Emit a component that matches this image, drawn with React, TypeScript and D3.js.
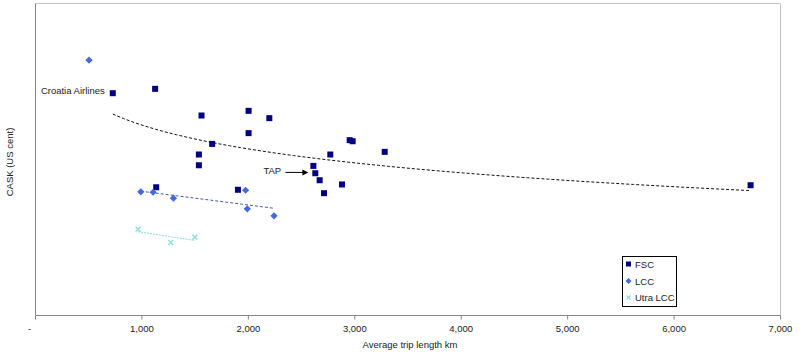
import React from "react";
import * as d3 from "d3";

// Average trip length (km) and CASK (US cent, estimated scale)
const fscX = [726, 1124, 1560, 2002, 2197, 2002, 1660, 2952, 2980, 2770, 3281, 1535, 1535, 2611, 2629, 2670, 2880, 2711, 1134, 1902, 6719];
const fscY = [14.25, 14.53, 12.82, 13.12, 12.65, 11.69, 11.0, 11.24, 11.17, 10.32, 10.49, 10.32, 9.63, 9.59, 9.12, 8.67, 8.4, 7.84, 8.22, 8.06, 8.35];
const lccX = [503, 990, 1105, 1296, 1974, 1990, 2241];
const lccY = [16.37, 7.93, 7.9, 7.52, 8.03, 6.84, 6.39];
const ulccX = [964, 1271, 1497];
const ulccY = [5.53, 4.68, 5.02];
const xTicks = [0, 1000, 2000, 3000, 4000, 5000, 6000, 7000];
const seriesNames = ["FSC", "LCC", "Utra LCC"];

const W = 800, H = 356;
const left = 35.5, right = 780.5, top = 3.5, bottom = 315.5;
const FONT = "'Liberation Sans', Arial, sans-serif";

function linFit(xs: number[], ys: number[], tf: (v: number) => number) {
  const tx = xs.map(tf);
  const mx = d3.mean(tx)!, my = d3.mean(ys)!;
  let sxy = 0, sxx = 0;
  tx.forEach((v, i) => { sxy += (v - mx) * (ys[i] - my); sxx += (v - mx) ** 2; });
  const b = sxy / sxx;
  return (x: number) => my + b * (tf(x) - mx);
}

export default function App() {
  const x = d3.scaleLinear().domain([0, 7000]).range([left, right]);
  const y = d3.scaleLinear().domain([0, 20]).range([bottom, top]);

  const fscFit = linFit(fscX, fscY, Math.log);
  const fscExt = d3.extent(fscX) as [number, number];
  const fscTrend = d3.range(0, 61).map(i => fscExt[0] + (fscExt[1] - fscExt[0]) * i / 60);
  const line = d3.line<[number, number]>().x(d => x(d[0])).y(d => y(d[1]));

  // LCC trend computed on the cluster (excluding the short-haul outlier)
  const lccTX = lccX.slice(1), lccTY = lccY.slice(1);
  const lccFit = linFit(lccTX, lccTY, v => v);
  const lccExt = d3.extent(lccTX) as [number, number];
  const ulccFit = linFit(ulccX, ulccY, v => v);
  const ulccExt = d3.extent(ulccX) as [number, number];

  const navy = "#000080", blue = "#4169e1", cyan = "#8adede";
  const diamond = "M0,-3.6L3.6,0L0,3.6L-3.6,0Z";
  const cross = "M-2.5,-2.5L2.5,2.5M-2.5,2.5L2.5,-2.5";

  const tap = fscX.findIndex((v, i) => v === 2611 && fscY[i] === 9.59);
  const cro = 0;

  return (
    <svg width={W} height={H} style={{ position: "absolute", left: 0, top: 0, background: "#fff" }} fontFamily={FONT}>
      <rect x={0} y={0} width={W} height={H} fill="#fff" />
      {/* plot frame */}
      <line x1={left} y1={top} x2={right} y2={top} stroke="#c4c4c4" />
      <line x1={right} y1={top} x2={right} y2={bottom} stroke="#c4c4c4" />
      <line x1={left} y1={top} x2={left} y2={bottom} stroke="#868686" />
      <line x1={left} y1={bottom} x2={right} y2={bottom} stroke="#868686" />
      {xTicks.map(t => (
        <g key={t}>
          <line x1={x(t)} x2={x(t)} y1={bottom} y2={bottom + 4} stroke="#868686" />
          <text x={t === 0 ? x(t) - 6 : x(t)} y={332} fontSize={9.5} textAnchor="middle" fill="#222">
            {t === 0 ? "-" : d3.format(",")(t)}
          </text>
        </g>
      ))}
      <text x={(left + right) / 2 + 2} y={347.5} fontSize={9.5} textAnchor="middle" fill="#222">Average trip length km</text>
      <text transform={`translate(12.5,162) rotate(-90)`} fontSize={9.5} textAnchor="middle" fill="#222">CASK (US cent)</text>

      {/* trend lines */}
      <path d={line(fscTrend.map(v => [v, fscFit(v)]))!} fill="none" stroke="#111" strokeWidth={1} strokeDasharray="3,2" />
      <path d={line(lccExt.map(v => [v, lccFit(v)]))!} fill="none" stroke="#4a5f96" strokeWidth={1} strokeDasharray="3,2" />
      <path d={line(ulccExt.map(v => [v, ulccFit(v)]))!} fill="none" stroke={cyan} strokeWidth={1} strokeDasharray="2,1" />

      {/* points */}
      {fscX.map((v, i) => (
        <rect key={"f" + i} x={x(v) - 3} y={y(fscY[i]) - 3} width={6} height={6} fill={navy} />
      ))}
      {lccX.map((v, i) => (
        <path key={"l" + i} d={diamond} transform={`translate(${x(v)},${y(lccY[i])})`} fill={blue} />
      ))}
      {ulccX.map((v, i) => (
        <path key={"u" + i} d={cross} transform={`translate(${x(ulccX[i])},${y(ulccY[i])})`} stroke={cyan} strokeWidth={1.3} fill="none" />
      ))}

      {/* annotations */}
      <text x={x(fscX[cro]) - 8} y={y(fscY[cro]) + 1} fontSize={9.5} textAnchor="end" fill="#222">Croatia Airlines</text>
      <text x={x(fscX[tap]) - 50} y={y(fscY[tap]) + 8} fontSize={9.5} fill="#222">TAP</text>
      <line x1={x(fscX[tap]) - 28} x2={x(fscX[tap]) - 10} y1={y(fscY[tap]) + 6.5} y2={y(fscY[tap]) + 6.5} stroke="#000" strokeWidth={1} />
      <path d={`M${x(fscX[tap]) - 5},${y(fscY[tap]) + 6.5}l-6,-3l0,6z`} fill="#000" />

      {/* legend */}
      <rect x={622.5} y={256.5} width={54} height={50} fill="#fff" stroke="#000" strokeWidth={1} />
      {seriesNames.map((n, i) => {
        const cy = 264.5 + i * 16.5;
        return (
          <g key={n}>
            {i === 0 && <rect x={626} y={cy - 3} width={5} height={5} fill={navy} />}
            {i === 1 && <path d="M0,-3L3,0L0,3L-3,0Z" transform={`translate(628.5,${cy})`} fill={blue} />}
            {i === 2 && <path d="M-2,-2L2,2M-2,2L2,-2" transform={`translate(628.5,${cy})`} stroke={cyan} strokeWidth={1.2} />}
            <text x={635} y={cy + 3.5} fontSize={9.5} fill="#222">{n}</text>
          </g>
        );
      })}
    </svg>
  );
}
